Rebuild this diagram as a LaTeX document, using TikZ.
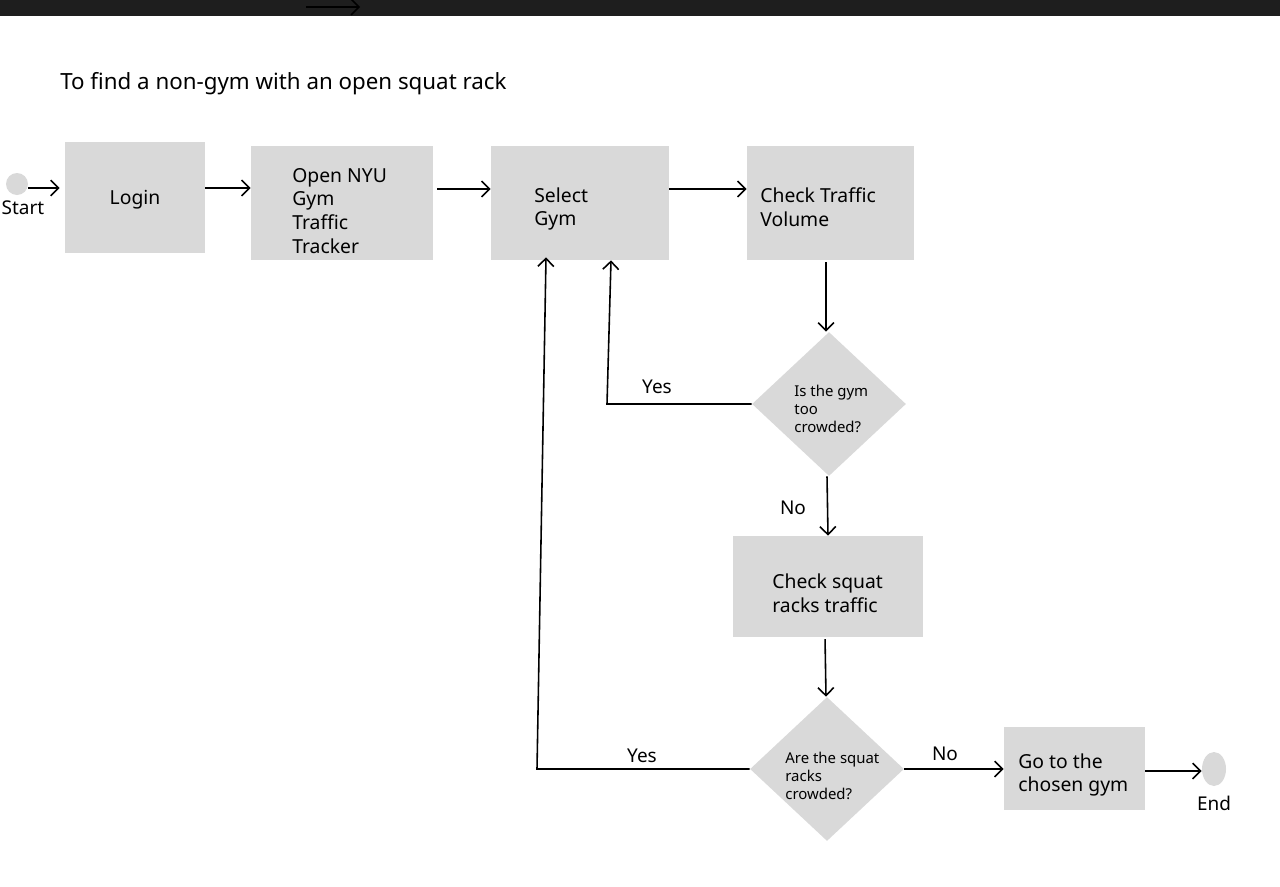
\documentclass[tikz,border=0pt]{standalone}
\usepackage{fontspec}
\setmainfont{Noto Sans}
\usetikzlibrary{arrows.meta,shapes.geometric,fit}
\definecolor{boxgray}{HTML}{D9D9D9}
\definecolor{barcol}{HTML}{1E1E1E}
\begin{document}
\begin{tikzpicture}[x=0.02cm,y=-0.02cm,
  box/.style={fill=boxgray, inner sep=0, draw=none},
  dia/.style={diamond, fill=boxgray, inner sep=0, minimum width=3.08cm, minimum height=2.88cm},
  btext/.style={inner sep=0, align=left, font=\fontsize{11pt}{13.6pt}\selectfont},
  dtext/.style={inner sep=0, align=left, font=\fontsize{8.5pt}{10.2pt}\selectfont},
  lbl/.style={inner sep=0, font=\fontsize{10.8pt}{13pt}\selectfont},
  arr/.style={draw=black, line width=0.9pt, -{Straight Barb[length=4.5pt,width=9pt,line width=0.9pt]}},
  ln/.style={draw=black, line width=0.9pt}
]
\useasboundingbox (0,0) rectangle (1280,886);
% top bar
\fill[barcol] (0,0) rectangle (1280,16);
\coordinate (barA) at (306,7);
\coordinate (barB) at (360,7);
\draw[arr] (barA) -- (barB);

\node[lbl, anchor=west, font=\fontsize{12.7pt}{15pt}\selectfont] (title) at (60,84) {To find a non-gym with an open squat rack};

% start
\node[circle, fill=boxgray, minimum size=0.44cm, inner sep=0] (start) at (17,184) {};
\node[lbl] (startl) at (23,208) {Start};

% boxes
\node[box, fit={(65,142) (205,253)}] (login) {};
\node[btext] (logint) at (135,200) {Login};
\node[box, fit={(251,146) (433,260)}] (nyu) {};
\node[btext, anchor=west] (nyut) at (292,211) {Open NYU\\Gym\\Traffic\\Tracker};
\node[box, fit={(491,146) (669,260)}] (select) {};
\node[btext, anchor=west] (selectt) at (534,209) {Select\\Gym};
\node[box, fit={(747,146) (914,260)}] (traffic) {};
\node[btext, anchor=west] (traffict) at (760,207) {Check Traffic\\Volume};

\node[dia] (d1) at (829,404) {};
\node[dtext, anchor=west] (d1t) at (794,409) {Is the gym\\too\\crowded?};

\node[box, fit={(733,536) (923,637)}] (squat) {};
\node[btext, anchor=west] (squatt) at (772,593) {Check squat\\racks traffic};

\node[dia] (d2) at (827,769) {};
\node[dtext, anchor=west] (d2t) at (785,776) {Are the squat\\racks\\crowded?};

\node[box, fit={(1004,727) (1145,810)}] (go) {};
\node[btext, anchor=west] (got) at (1018,775) {Go to the\\chosen gym};

\node[ellipse, fill=boxgray, minimum width=0.48cm, minimum height=0.68cm, inner sep=0] (end) at (1214,769) {};
\node[lbl] (endl) at (1214,803) {End};

% connectors
\draw[arr, shorten >=2.8pt] (start.east |- 0,188) -- (login.west |- 0,188);
\draw[arr] (login.east |- 0,188) -- (nyu.west |- 0,188);
\draw[arr, shorten <=2.2pt] (nyu.east |- 0,189) -- (select.west |- 0,189);
\draw[arr] (select.east |- 0,189) -- (traffic.west |- 0,189);
\draw[arr, shorten <=1pt] (traffic.south -| 826,0) -- (d1.north -| 826,0);
\draw[arr] (d1.west) -- (d1.west -| 607,0) -- (select.south -| 611,0);
\node[lbl] (yes1) at (657,387) {Yes};
\draw[arr] (d1.south -| 827,0) -- (squat.north -| 828,0);
\node[lbl] (no1) at (793,508) {No};
\draw[arr, shorten <=1pt] (squat.south -| 825,0) -- (d2.north -| 826,0);
\draw[arr] (d2.west) -- (d2.west -| 537,0) -- ([yshift=0.06cm]select.south -| 546,0);
\node[lbl] (yes2) at (642,756) {Yes};
\draw[arr] (d2.east) -- (go.west |- d2.east);
\node[lbl] (no2) at (945,754) {No};
\draw[arr] (go.east |- 0,771) -- (end.west |- 0,771);
\end{tikzpicture}
\end{document}
